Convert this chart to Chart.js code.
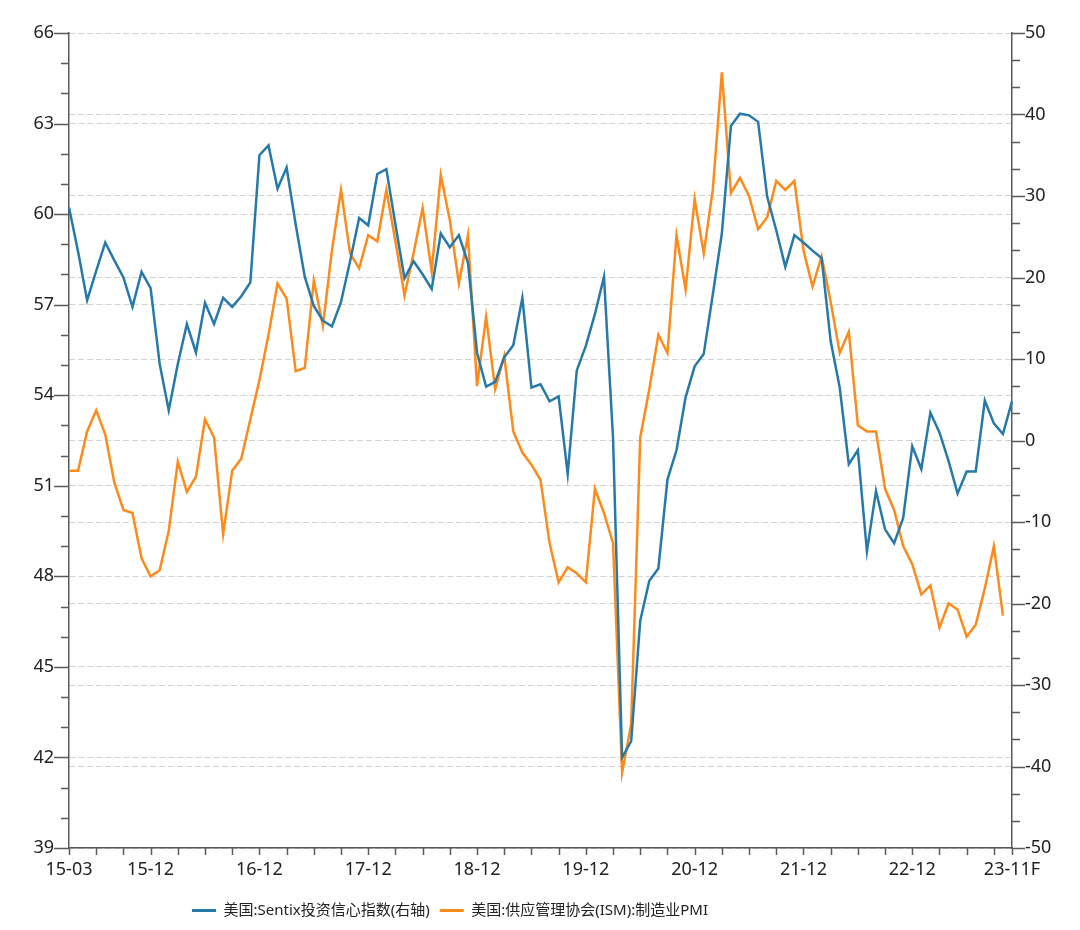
<!DOCTYPE html>
<html><head><meta charset="utf-8">
<script src="https://cdn.jsdelivr.net/npm/chart.js@4.4.0/dist/chart.umd.min.js"></script>
<style>html,body{margin:0;padding:0;background:#fff;}canvas{display:block;}</style>
</head><body>
<canvas id="c" width="1080" height="930"></canvas>
<script>
const categories = [
'15-03','15-04','15-05','15-06','15-07','15-08','15-09','15-10','15-11','15-12',
'16-01','16-02','16-03','16-04','16-05','16-06','16-07','16-08','16-09','16-10','16-11','16-12',
'17-01','17-02','17-03','17-04','17-05','17-06','17-07','17-08','17-09','17-10','17-11','17-12',
'18-01','18-02','18-03','18-04','18-05','18-06','18-07','18-08','18-09','18-10','18-11','18-12',
'19-01','19-02','19-03','19-04','19-05','19-06','19-07','19-08','19-09','19-10','19-11','19-12',
'20-01','20-02','20-03','20-04','20-05','20-06','20-07','20-08','20-09','20-10','20-11','20-12',
'21-01','21-02','21-03','21-04','21-05','21-06','21-07','21-08','21-09','21-10','21-11','21-12',
'22-01','22-02','22-03','22-04','22-05','22-06','22-07','22-08','22-09','22-10','22-11','22-12',
'23-01','23-02','23-03','23-04','23-05','23-06','23-07','23-08','23-09','23-10','23-11F'
];
const xTickLabels = ['15-03','15-12','16-12','17-12','18-12','19-12','20-12','21-12','22-12','23-11F'];

// 美国:Sentix投资信心指数 (right axis)
const sentix = [
28.6,23.2,17.2,20.8,24.3,22.1,20.0,16.4,20.7,18.7,
9.4,3.7,9.4,14.3,10.8,16.9,14.3,17.5,16.4,17.7,
19.4,35.0,36.2,30.9,33.5,26.5,20.1,16.5,14.7,14.0,
17.0,22.0,27.3,26.4,32.7,33.3,26.5,19.9,22.0,20.4,
18.6,25.4,23.7,25.2,21.8,10.8,6.6,7.2,10.2,11.7,
17.5,6.5,6.9,4.8,5.4,-4.1,8.6,11.6,15.5,20.1,
0.3,-38.9,-36.9,-22.1,-17.2,-15.7,-4.8,-1.2,5.3,9.1,
10.6,17.9,25.4,38.6,40.1,39.9,39.1,29.9,25.8,21.3,
25.2,24.3,23.3,22.4,12.2,6.5,-2.9,-1.2,-13.6,-6.2,
-10.9,-12.6,-9.5,-0.7,-3.5,3.4,1.0,-2.5,-6.5,-3.8,
-3.8,4.9,2.1,0.8,4.8
];

// 美国:供应管理协会(ISM):制造业PMI (left axis)
const ismPmi = [
51.5,51.5,52.8,53.5,52.7,51.1,50.2,50.1,48.6,48.0,
48.2,49.5,51.8,50.8,51.3,53.2,52.6,49.4,51.5,51.9,
53.2,54.5,56.0,57.7,57.2,54.8,54.9,57.8,56.3,58.8,
60.8,58.7,58.2,59.3,59.1,60.8,59.1,57.3,58.7,60.2,
58.1,61.3,59.8,57.7,59.3,54.3,56.6,54.2,55.3,52.8,
52.1,51.7,51.2,49.1,47.8,48.3,48.1,47.8,50.9,50.1,
49.1,41.5,43.1,52.6,54.2,56.0,55.4,59.3,57.5,60.5,
58.7,60.8,64.7,60.7,61.2,60.6,59.5,59.9,61.1,60.8,
61.1,58.8,57.6,58.6,57.1,55.4,56.1,53.0,52.8,52.8,
50.9,50.2,49.0,48.4,47.4,47.7,46.3,47.1,46.9,46.0,
46.4,47.6,49.0,46.7,null
];

const leftTicks = [39,42,45,48,51,54,57,60,63,66];
const rightTicks = [-50,-40,-30,-20,-10,0,10,20,30,40,50];

const seriesNames = ['美国:Sentix投资信心指数(右轴)','美国:供应管理协会(ISM):制造业PMI'];
const colors = ['#2779a7','#fd8b1c'];

const AXIS_COLOR = '#5a5a5a';
const GRID_COLOR = '#d2d2d2';
const TEXT_COLOR = '#222222';
const FONT = "'Noto Sans', 'Noto Sans CJK SC', sans-serif";

Chart.defaults.font.family = FONT;
Chart.defaults.color = TEXT_COLOR;

const tickMarks = {
  id: 'tickMarks',
  afterDraw(chart) {
    const ctx = chart.ctx;
    const x = chart.scales.x, yL = chart.scales.yL, yR = chart.scales.yR;
    ctx.save();
    ctx.strokeStyle = AXIS_COLOR;
    ctx.lineWidth = 1.5;
    ctx.beginPath();
    for (let i = 0; i < categories.length; i++) {
      if (i % 3 === 0 || i === categories.length - 1) {
        const px = Math.round(x.getPixelForValue(i)) + 0.5;
        ctx.moveTo(px, x.top);
        ctx.lineTo(px, x.top + 7);
      }
    }
    for (let v = yL.min; v <= yL.max; v++) {
      const py = Math.round(yL.getPixelForValue(v)) + 0.5;
      const len = leftTicks.includes(v) ? 15 : 8;
      ctx.moveTo(yL.right, py);
      ctx.lineTo(yL.right - len, py);
    }
    for (let k = 0; k <= 30; k++) {
      const v = yR.min + k * 10 / 3;
      const py = Math.round(yR.getPixelForValue(v)) + 0.5;
      const len = (k % 3 === 0) ? 13 : 8;
      ctx.moveTo(yR.left, py);
      ctx.lineTo(yR.left + len, py);
    }
    ctx.stroke();
    ctx.restore();
  }
};

const legendShift = {
  id: 'legendShift',
  afterLayout(chart) {
    const lg = chart.legend;
    if (lg) { lg.left -= 90; lg.right -= 90; }
  }
};

new Chart(document.getElementById('c'), {
  type: 'line',
  data: {
    labels: categories,
    datasets: [
      { label: seriesNames[0], data: sentix, yAxisID: 'yR',
        borderColor: colors[0], backgroundColor: colors[0],
        borderWidth: 2.5, pointRadius: 0, tension: 0 },
      { label: seriesNames[1], data: ismPmi, yAxisID: 'yL',
        borderColor: colors[1], backgroundColor: colors[1],
        borderWidth: 2.5, pointRadius: 0, tension: 0 }
    ]
  },
  options: {
    responsive: false,
    animation: false,
    devicePixelRatio: 1,
    layout: { padding: { top: 33, left: 0, right: 0, bottom: 2 } },
    plugins: {
      legend: {
        position: 'bottom',
        labels: {
          font: { size: 15 },
          color: TEXT_COLOR,
          boxWidth: 24,
          boxHeight: 3,
          padding: 10,
          generateLabels(chart) {
            return chart.data.datasets.map((ds, i) => ({
              text: ds.label, fillStyle: ds.borderColor, strokeStyle: ds.borderColor,
              lineWidth: 0, hidden: false, datasetIndex: i, fontColor: TEXT_COLOR
            }));
          }
        }
      },
      tooltip: { enabled: false }
    },
    scales: {
      x: {
        type: 'category',
        offset: false,
        afterFit(s) { s.height = 45; },
        border: { display: true, color: AXIS_COLOR, width: 1.5 },
        grid: { display: true, drawOnChartArea: false, drawTicks: true, tickLength: 8, tickColor: 'rgba(0,0,0,0)' },
        ticks: {
          autoSkip: false, maxRotation: 0, minRotation: 0, padding: 3,
          font: { size: 18 }, color: TEXT_COLOR,
          callback(val) { const l = this.getLabelForValue(val); return xTickLabels.includes(l) ? l : ''; }
        }
      },
      yL: {
        position: 'left',
        min: 39, max: 66,
        afterFit(s) { s.width = 69; },
        afterBuildTicks(s) { s.ticks = leftTicks.map(v => ({ value: v })); },
        border: { display: true, color: AXIS_COLOR, width: 1.5, dash: [6, 3] },
        grid: { color: GRID_COLOR, lineWidth: 1, drawTicks: true, tickLength: 12, tickColor: 'rgba(0,0,0,0)' },
        ticks: { padding: 3, font: { size: 18 }, color: TEXT_COLOR }
      },
      yR: {
        position: 'right',
        min: -50, max: 50,
        afterFit(s) { s.width = 68; },
        afterBuildTicks(s) { s.ticks = rightTicks.map(v => ({ value: v })); },
        border: { display: true, color: AXIS_COLOR, width: 1.5, dash: [6, 3] },
        grid: { color: GRID_COLOR, lineWidth: 1, drawOnChartArea: true, drawTicks: true, tickLength: 10, tickColor: 'rgba(0,0,0,0)' },
        ticks: { padding: 3, font: { size: 18 }, color: TEXT_COLOR }
      }
    }
  },
  plugins: [tickMarks, legendShift]
});
</script>
</body></html>
